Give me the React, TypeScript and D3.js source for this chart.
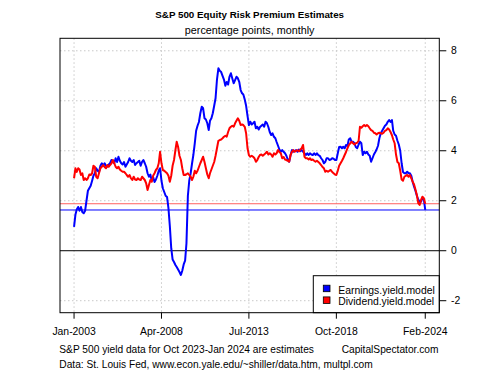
import React from "react";
import * as d3 from "d3";

// Monthly values, Jan 2003 .. Feb 2024 (one row per year)
const earningsYield: number[][] = [
  [0.95, 1.45, 1.65, 1.75, 1.6, 1.75, 1.55, 1.5, 1.6, 2.0, 2.4, 2.5],
  [2.6, 2.8, 3.0, 3.1, 3.3, 3.2, 3.15, 3.4, 3.5, 3.4, 3.5, 3.4],
  [3.36, 3.45, 3.5, 3.63, 3.55, 3.5, 3.7, 3.55, 3.76, 3.6, 3.5, 3.45],
  [3.55, 3.36, 3.45, 3.55, 3.7, 3.6, 3.55, 3.63, 3.43, 3.5, 3.55, 3.6],
  [3.4, 3.56, 3.63, 3.5, 3.36, 3.1, 2.96, 3.05, 2.8, 2.95, 2.75, 2.85],
  [3.0, 3.2, 3.3, 2.8, 2.5, 2.35, 2.2, 2.15, 1.7, 1.0, 0.1, -0.35],
  [-0.45, -0.57, -0.65, -0.75, -0.85, -0.97, -0.8, -0.55, -0.4, 0.3, 2.2, 2.8],
  [3.1, 3.5, 3.83, 4.3, 4.8, 5.0, 5.15, 5.5, 5.76, 5.7, 5.3, 5.25],
  [5.1, 4.83, 5.2, 5.3, 5.5, 5.8, 6.1, 6.85, 7.3, 7.2, 7.15, 7.0],
  [6.85, 6.6, 6.75, 6.65, 6.96, 7.1, 6.9, 6.7, 6.83, 6.96, 6.9, 6.76],
  [6.43, 6.3, 6.25, 6.05, 5.8, 5.4, 5.03, 5.16, 5.05, 5.1, 5.16, 4.9],
  [4.96, 4.85, 4.95, 5.0, 5.05, 4.96, 5.16, 5.1, 4.95, 4.75, 4.63, 4.7],
  [4.56, 4.5, 4.35, 4.2, 4.05, 3.96, 4.03, 3.96, 3.9, 3.8, 3.65, 3.56],
  [3.83, 4.03, 3.96, 4.0, 4.03, 3.96, 4.05, 3.98, 4.03, 3.96, 3.9, 3.83],
  [3.9, 3.83, 3.9, 3.85, 3.83, 3.9, 3.83, 3.9, 3.83, 3.8, 3.7, 3.63],
  [3.5, 3.56, 3.7, 3.7, 3.63, 3.65, 3.7, 3.68, 3.63, 3.63, 3.9, 4.15],
  [4.16, 4.1, 4.16, 4.1, 4.23, 4.2, 4.45, 4.5, 4.36, 4.36, 4.3, 4.15],
  [4.1, 4.25, 4.36, 4.3, 3.83, 3.96, 3.9, 3.96, 3.85, 3.8, 3.56, 3.7],
  [3.85, 3.95, 4.05, 4.2, 4.5, 4.7, 4.8, 4.9, 5.0, 5.05, 5.16, 5.23],
  [5.15, 5.23, 4.8, 4.65, 4.6, 4.4, 4.25, 4.0, 3.5, 3.15, 3.1, 3.1],
  [3.16, 3.1, 3.1, 3.0, 2.76, 2.56, 2.4, 2.2, 2.05, 1.96, 1.96, 2.1],
  [2.05, 1.63],
];

const dividendYield: number[][] = [
  [2.9, 3.3, 3.15, 3.3, 3.25, 3.03, 3.1, 2.83, 2.9, 2.83, 2.9, 3.05],
  [3.03, 3.1, 3.4, 3.36, 2.96, 2.9, 3.1, 3.3, 3.36, 3.43, 3.35, 3.3],
  [3.43, 3.36, 3.43, 3.5, 3.63, 3.5, 3.36, 3.3, 3.36, 3.25, 3.2, 3.16],
  [3.16, 3.1, 3.03, 2.96, 3.03, 2.9, 2.83, 2.96, 2.85, 2.83, 2.9, 2.85],
  [2.83, 2.96, 2.9, 2.83, 2.7, 2.43, 2.63, 2.83, 2.76, 3.0, 3.1, 3.23],
  [3.3, 3.5, 3.96, 3.5, 3.23, 3.2, 3.15, 3.1, 3.0, 2.76, 3.0, 3.4],
  [3.63, 4.03, 4.36, 4.15, 3.8, 3.63, 3.3, 3.03, 3.03, 3.06, 3.1, 3.03],
  [2.96, 2.83, 2.96, 3.2, 3.1, 3.2, 3.35, 3.5, 3.63, 3.76, 3.55, 3.3],
  [3.05, 2.9, 3.1, 3.25, 3.4, 3.55, 3.8, 4.1, 4.4, 4.43, 4.45, 4.5],
  [4.56, 4.6, 4.56, 4.75, 4.9, 4.96, 5.0, 4.96, 5.1, 5.2, 5.3, 5.2],
  [5.03, 5.05, 5.03, 4.96, 4.7, 4.1, 3.83, 3.76, 3.8, 3.76, 3.7, 3.56],
  [3.63, 3.75, 3.83, 3.85, 3.8, 3.85, 3.9, 3.96, 3.85, 3.9, 3.85, 3.76],
  [3.9, 3.85, 3.9, 4.03, 3.95, 3.9, 3.7, 3.75, 3.65, 3.63, 3.6, 3.56],
  [3.83, 3.96, 4.03, 3.96, 4.0, 4.02, 3.98, 4.05, 4.1, 4.23, 3.76, 3.7],
  [3.7, 3.65, 3.7, 3.63, 3.65, 3.6, 3.56, 3.6, 3.55, 3.5, 3.43, 3.35],
  [3.3, 3.16, 3.2, 3.16, 3.2, 3.23, 3.15, 3.1, 3.05, 3.03, 3.2, 3.4],
  [3.5, 3.6, 3.7, 3.83, 3.95, 4.1, 4.23, 4.3, 4.36, 4.3, 4.25, 4.3],
  [4.32, 4.4, 4.96, 4.92, 4.98, 5.03, 4.98, 5.03, 4.98, 4.9, 4.83, 4.8],
  [4.72, 4.7, 4.65, 4.7, 4.72, 4.7, 4.68, 4.72, 4.8, 4.83, 4.9, 4.85],
  [4.75, 4.62, 4.45, 4.3, 3.85, 3.55, 3.5, 3.2, 2.85, 2.8, 2.96, 3.0],
  [3.03, 2.96, 3.03, 2.9, 2.76, 2.65, 2.45, 2.23, 1.9, 1.83, 2.03, 2.16],
  [2.1, 1.88],
];

const startYear = 2003;
const xTickLabels = ["Jan-2003", "Apr-2008", "Jul-2013", "Oct-2018", "Feb-2024"];
const xTickDates = [new Date(2003, 0, 1), new Date(2008, 3, 1), new Date(2013, 6, 1), new Date(2018, 9, 1), new Date(2024, 1, 1)];
const yTicks = [-2, 0, 2, 4, 6, 8];
const seriesNames = ["Earnings.yield.model", "Dividend.yield.model"];
const seriesColors = ["#0000ff", "#ff0000"];
const refColors = ["#0000ff", "#ff6060"];
const title = "S&P 500 Equity Risk Premium Estimates";
const subtitle = "percentage points, monthly";
const note1 = "S&P 500 yield data for Oct 2023-Jan 2024 are estimates";
const note2 = "CapitalSpectator.com";
const note3 = "Data: St. Louis Fed, www.econ.yale.edu/~shiller/data.htm, multpl.com";

type Pt = { date: Date; value: number };
function flatten(rows: number[][]): Pt[] {
  const out: Pt[] = [];
  rows.forEach((row, yi) =>
    row.forEach((v, mi) => out.push({ date: new Date(startYear + yi, mi, 1), value: v }))
  );
  return out;
}

const FONT = "'Liberation Sans', Arial, Helvetica, sans-serif";

export default function App() {
  const W = 500, H = 375;
  const left = 60, right = 439.3, top = 38.3, bottom = 312.7;
  const series = [flatten(earningsYield), flatten(dividendYield)];
  const d0 = xTickDates[0].getTime();
  const d1 = xTickDates[xTickDates.length - 1].getTime();
  const pad = (d1 - d0) * 0.04;
  const x = d3.scaleTime().domain([new Date(d0 - pad), new Date(d1 + pad)]).range([left, right]);
  const y = d3.scaleLinear().domain([-2.48, 8.5]).range([bottom, top]);
  const line = d3.line<Pt>().x((d) => x(d.date)).y((d) => y(d.value));
  const lastVals = series.map((s) => s[s.length - 1].value);

  return (
    <svg width={W} height={H} style={{ position: "absolute", left: 0, top: 0, background: "#fff" }} fontFamily={FONT}>
      <rect x={0} y={0} width={W} height={H} fill="#fff" />
      <text x={(left + right) / 2} y={18.3} textAnchor="middle" fontWeight="bold" fontSize={9.8}>{title}</text>
      <text x={(left + right) / 2} y={33.5} textAnchor="middle" fontSize={10.8}>{subtitle}</text>
      {/* grid */}
      {yTicks.filter((t) => t !== 0).map((t) => (
        <line key={"gy" + t} x1={left} x2={right} y1={y(t)} y2={y(t)} stroke="#c8c8c8" strokeDasharray="1.5,2.5" strokeWidth={1} />
      ))}
      {xTickDates.map((d, i) => (
        <line key={"gx" + i} x1={x(d)} x2={x(d)} y1={top} y2={bottom} stroke="#c8c8c8" strokeDasharray="1.5,2.5" strokeWidth={1} />
      ))}
      <line x1={left} x2={right} y1={y(0)} y2={y(0)} stroke="#000" strokeWidth={1} />
      {lastVals.map((v, i) => (
        <line key={"ref" + i} x1={left} x2={right} y1={y(v)} y2={y(v)} stroke={refColors[i]} strokeWidth={1} />
      ))}
      {series.map((s, i) => (
        <path key={"s" + i} d={line(s) || ""} fill="none" stroke={seriesColors[i]} strokeWidth={2} strokeLinejoin="round" />
      ))}
      {/* legend */}
      <rect x={313.3} y={275.7} width={right - 313.3} height={bottom - 275.7} fill="#fff" stroke="#000" strokeWidth={1} />
      {seriesNames.map((n, i) => (
        <g key={"lg" + i}>
          <rect x={323.3} y={285.2 + i * 11.7} width={6.7} height={6.5} fill={seriesColors[i]} stroke="#000" strokeWidth={0.8} />
          <text x={338.3} y={293.7 + i * 11.7} fontSize={10.4}>{n}</text>
        </g>
      ))}
      {/* box */}
      <rect x={left} y={top} width={right - left} height={bottom - top} fill="none" stroke="#000" strokeWidth={1} />
      {/* x axis */}
      {xTickDates.map((d, i) => (
        <g key={"xt" + i}>
          <line x1={x(d)} x2={x(d)} y1={bottom} y2={bottom + 6} stroke="#000" />
          <text x={x(d)} y={335} textAnchor="middle" fontSize={10.4}>{xTickLabels[i]}</text>
        </g>
      ))}
      {/* y axis right */}
      {yTicks.map((t) => (
        <g key={"yt" + t}>
          <line x1={right} x2={right + 7} y1={y(t)} y2={y(t)} stroke="#000" />
          <text x={451} y={y(t) + 3.7} fontSize={10.4}>{t}</text>
        </g>
      ))}
      <text x={59.3} y={352.7} fontSize={10.2}>{note1}</text>
      <text x={438.5} y={352.7} textAnchor="end" fontSize={10.2}>{note2}</text>
      <text x={59.3} y={368.3} fontSize={10.2}>{note3}</text>
    </svg>
  );
}
